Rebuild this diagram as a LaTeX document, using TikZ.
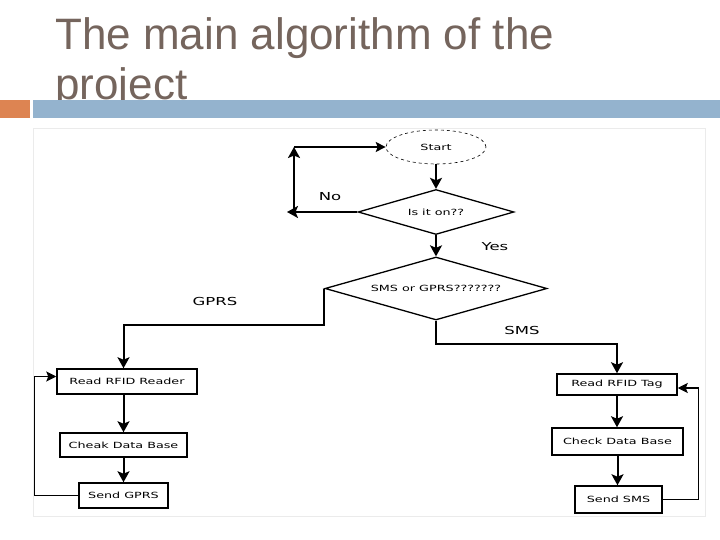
\documentclass[tikz,border=0pt]{standalone}
\usepackage{fontspec}
\setmainfont{Liberation Sans}
\newfontfamily\chartfont[FakeStretch=1.5]{DejaVu Sans}
\usetikzlibrary{shapes.geometric, arrows.meta}

\definecolor{titlegray}{RGB}{117,101,93}
\definecolor{barorange}{RGB}{221,132,82}
\definecolor{barblue}{RGB}{148,179,206}

\tikzset{
    stepbox/.style={draw, line width=1.5pt, inner sep=0pt, font=\chartfont\fontsize{8.5}{10}\selectfont},
    askdiamond/.style={draw, diamond, shape aspect=3.5, line width=1.3pt, inner sep=0pt,
        font=\chartfont\fontsize{8.5}{10}\selectfont},
    flowarrow/.style={-{Stealth[length=11pt, width=12pt, inset=2.5pt]}, line width=2pt},
    backarrow/.style={-{Stealth[length=10pt, width=10pt, inset=2pt]}, line width=1.1pt},
    branchtext/.style={font=\chartfont\fontsize{11}{12}\selectfont}
}

\begin{document}
\begin{tikzpicture}[x=1pt, y=-1pt]

    \useasboundingbox (0,0) rectangle (720,540);

    % ── Title and bars ───────────────────────────────────────────────────────
    \node[anchor=base west, inner sep=0pt, text=titlegray, font=\fontsize{44}{50}\selectfont]
        (title1) at (55,50) {The main algorithm of the};
    \node[anchor=base west, inner sep=0pt, text=titlegray, font=\fontsize{44}{50}\selectfont]
        (title2) at (55,100) {project};
    \fill[barorange] (0,100) rectangle (30,118);
    \fill[barblue] (33,100) rectangle (720,118);

    % ── Frame of the chart ───────────────────────────────────────────────────
    \draw[black!8] (33,128) rectangle (705,516);

    % ── Start and the two questions ──────────────────────────────────────────
    \node[draw, ellipse, dashed, line width=0.6pt, minimum width=100pt, minimum height=34pt,
          inner sep=0pt, font=\chartfont\fontsize{8.5}{10}\selectfont]
        (start) at (436,147) {Start};
    \node[askdiamond, minimum width=156pt, minimum height=45pt] (ison) at (436,212) {Is it on??};
    \node[askdiamond, minimum width=222pt, minimum height=63pt] (smsgprs) at (436,288.5)
        {SMS or GPRS???????};

    % ── GPRS side ────────────────────────────────────────────────────────────
    \node[stepbox, minimum width=140pt, minimum height=25pt] (reader) at (127,381.5) {Read RFID Reader};
    \node[stepbox, minimum width=127pt, minimum height=24pt] (cheak) at (123.5,445) {Cheak Data Base};
    \node[stepbox, minimum width=89pt, minimum height=25pt] (sendgprs) at (123.5,495.5) {Send GPRS};

    % ── SMS side ─────────────────────────────────────────────────────────────
    \node[stepbox, minimum width=120pt, minimum height=21pt] (tag) at (617,384.5) {Read RFID Tag};
    \node[stepbox, minimum width=131pt, minimum height=27pt] (check) at (617.5,441.5) {Check Data Base};
    \node[stepbox, minimum width=87pt, minimum height=27pt] (sendsms) at (618.5,499.5) {Send SMS};

    % ── Main flow ────────────────────────────────────────────────────────────
    \draw[flowarrow] (start.south) -- (ison.north);
    \draw[flowarrow] (ison.south) -- (smsgprs.north);

    % "No" goes back up to Start
    \coordinate (noleft) at (287,212);
    \coordinate (nolow) at (294,210);
    \coordinate (noup) at (294,147);
    \draw[flowarrow] (ison.west) -- (noleft);
    \draw[flowarrow] (nolow) -- (noup);
    \draw[backarrow] (noup) -- (start.west);
    \node[branchtext] (nolabel) at (330,197) {No};
    \node[branchtext] (yeslabel) at (495,247) {Yes};

    % Branches
    \draw[flowarrow] (smsgprs.west) -- ++(0,36) -| (cheak.north |- reader.north);
    \draw[flowarrow] (smsgprs.south) -- ++(0,23) -| (tag.north);
    \node[branchtext] (gprslabel) at (215,301) {GPRS};
    \node[branchtext] (smslabel) at (522,330) {SMS};

    % Columns
    \draw[flowarrow] (cheak.north |- reader.south) -- (cheak.north);
    \draw[flowarrow] (cheak.south) -- (sendgprs.north);
    \draw[flowarrow] (tag.south) -- (tag.south |- check.north);
    \draw[flowarrow] (check.south) -- (check.south |- sendsms.north);

    % ── Loops back ───────────────────────────────────────────────────────────
    \draw[backarrow] (sendgprs.west) -- ++(-44,0) |- ([yshift=5pt]reader.west);
    \draw[backarrow] (sendsms.east) -- ++(36,0) |- ([yshift=-3.5pt]tag.east);

\end{tikzpicture}
\end{document}
